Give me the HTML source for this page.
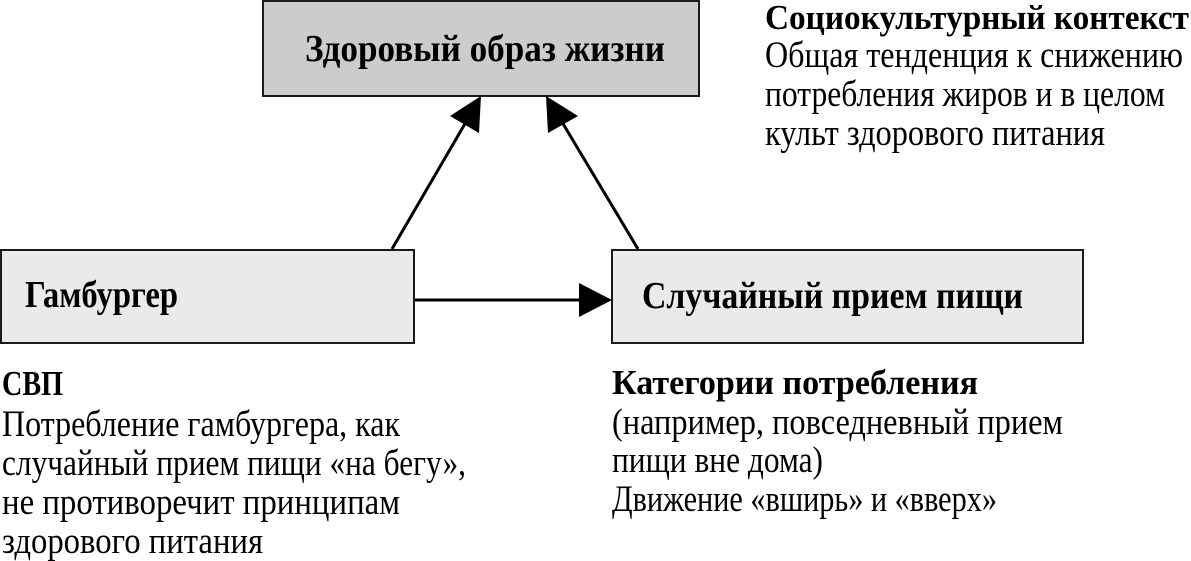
<!DOCTYPE html>
<html>
<head>
<meta charset="utf-8">
<style>
  html, body { margin: 0; padding: 0; background: #ffffff; }
  body { width: 1191px; height: 561px; overflow: hidden; }
  svg { display: block; }
  text { font-family: "Liberation Serif", "DejaVu Serif", serif; fill: #000; }
  .b { font-weight: bold; }
</style>
</head>
<body>
<svg width="1191" height="561" viewBox="0 0 1191 561" xmlns="http://www.w3.org/2000/svg">
  <!-- Boxes -->
  <rect x="263" y="1" width="436" height="95" fill="#cccccc" stroke="#1a1a1a" stroke-width="2"/>
  <rect x="1" y="250" width="413" height="93" fill="#eaeaea" stroke="#1a1a1a" stroke-width="2"/>
  <rect x="612" y="250" width="471" height="93" fill="#eaeaea" stroke="#1a1a1a" stroke-width="2"/>

  <!-- Connectors -->
  <line x1="392" y1="249" x2="466" y2="122" stroke="#000" stroke-width="3"/>
  <polygon points="481,96 479,133 450,116" fill="#000"/>
  <line x1="638" y1="249" x2="562" y2="122" stroke="#000" stroke-width="3"/>
  <polygon points="546,96 578,116 548,133" fill="#000"/>
  <line x1="415" y1="300" x2="582" y2="300" stroke="#000" stroke-width="3"/>
  <polygon points="579,283 612,300 579,317" fill="#000"/>

  <!-- Box labels -->
  <text class="b" x="305" y="61" font-size="38" textLength="360" lengthAdjust="spacingAndGlyphs">Здоровый образ жизни</text>
  <text class="b" x="25" y="307" font-size="38" textLength="153" lengthAdjust="spacingAndGlyphs">Гамбургер</text>
  <text class="b" x="642" y="308" font-size="38" textLength="381" lengthAdjust="spacingAndGlyphs">Случайный прием пищи</text>

  <!-- Top-right block -->
  <text class="b" x="765" y="29" font-size="35" textLength="424" lengthAdjust="spacingAndGlyphs">Социокультурный контекст</text>
  <text x="765" y="67" font-size="37" textLength="418" lengthAdjust="spacingAndGlyphs">Общая тенденция к снижению</text>
  <text x="765" y="106" font-size="37" textLength="400" lengthAdjust="spacingAndGlyphs">потребления жиров и в целом</text>
  <text x="765" y="145" font-size="37" textLength="340" lengthAdjust="spacingAndGlyphs">культ здорового питания</text>

  <!-- Bottom-left block -->
  <text class="b" x="2" y="395" font-size="35" textLength="61" lengthAdjust="spacingAndGlyphs">СВП</text>
  <text x="2" y="436" font-size="37" textLength="398" lengthAdjust="spacingAndGlyphs">Потребление гамбургера, как</text>
  <text x="2" y="475" font-size="37" textLength="464" lengthAdjust="spacingAndGlyphs">случайный прием пищи «на бегу»,</text>
  <text x="2" y="514" font-size="37" textLength="398" lengthAdjust="spacingAndGlyphs">не противоречит принципам</text>
  <text x="2" y="553" font-size="37" textLength="261" lengthAdjust="spacingAndGlyphs">здорового питания</text>

  <!-- Bottom-right block -->
  <text class="b" x="612" y="394" font-size="35" textLength="366" lengthAdjust="spacingAndGlyphs">Категории потребления</text>
  <text x="612" y="434" font-size="37" textLength="451" lengthAdjust="spacingAndGlyphs">(например, повседневный прием</text>
  <text x="612" y="472" font-size="37" textLength="211" lengthAdjust="spacingAndGlyphs">пищи вне дома)</text>
  <text x="612" y="511" font-size="37" textLength="385" lengthAdjust="spacingAndGlyphs">Движение «вширь» и «вверх»</text>
</svg>
</body>
</html>
